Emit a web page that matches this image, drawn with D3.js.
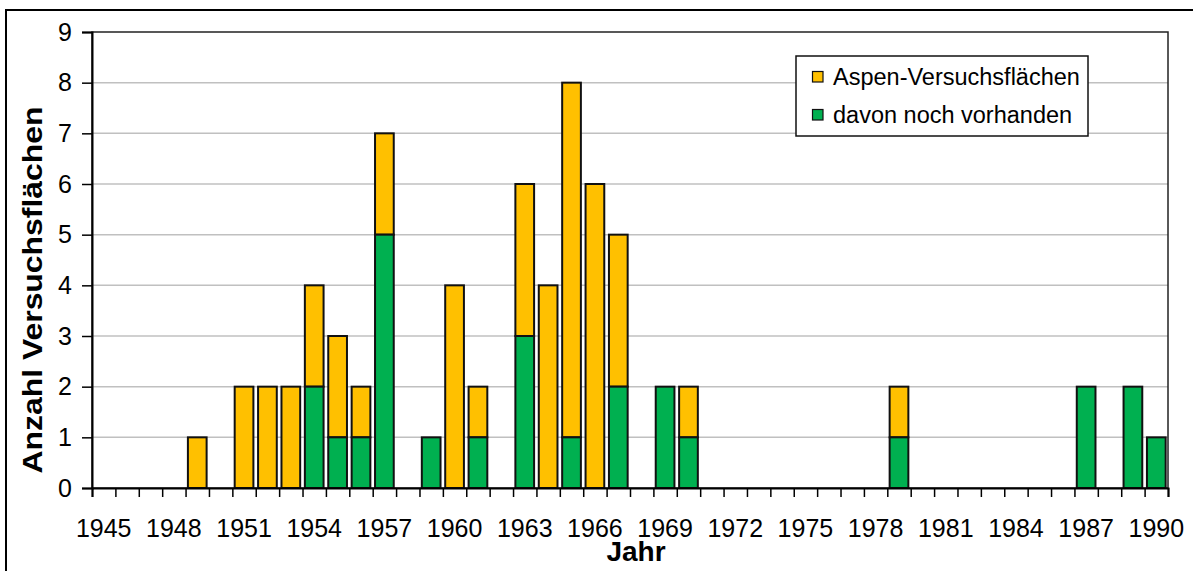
<!DOCTYPE html>
<html><head><meta charset="utf-8">
<script src="https://cdn.jsdelivr.net/npm/d3@7"></script>
<style>body{margin:0;background:#fff} svg{display:block}</style>
</head><body><svg id="c" width="1193" height="571"></svg>
<script>
// ---- data ----
const categoryYears = d3.range(1945, 1991);
const barYears = [1949,1951,1952,1953,1954,1955,1956,1957,1959,1960,1961,1963,1964,1965,1966,1967,1969,1970,1979,1987,1989,1990];
const totalPlots = [1,2,2,2,4,3,2,7,1,4,2,6,4,8,6,5,2,2,2,2,2,1];
const remainingPlots = [0,0,0,0,2,1,1,5,1,0,1,3,0,1,0,2,2,1,1,2,2,1];
const xTickLabels = [1945,1948,1951,1954,1957,1960,1963,1966,1969,1972,1975,1978,1981,1984,1987,1990];
const yTickValues = [0,1,2,3,4,5,6,7,8,9];
const seriesNames = ["Aspen-Versuchsflächen","davon noch vorhanden"];
const seriesColors = ["#FFC000","#00B050"];
const xTitle = "Jahr";
const yTitle = "Anzahl Versuchsflächen";

// ---- layout ----
const FONT = "'Liberation Sans', Arial, sans-serif";
const L = 92, R = 1168, T = 32, B = 488;
const svg = d3.select("#c");

// outer border
svg.append("rect").attr("x",6).attr("y",10).attr("width",1300).attr("height",700)
  .attr("fill","none").attr("stroke","#000").attr("stroke-width",2);

const x = d3.scaleBand().domain(categoryYears).range([L,R]).paddingInner(0.2).paddingOuter(0.1);
const xb = d3.scaleLinear().domain([0,categoryYears.length]).range([L,R]);
const y = d3.scaleLinear().domain([0,9]).range([B,T]);

// gridlines
svg.append("g").selectAll("line").data(yTickValues.filter(v=>v>0&&v<9)).join("line")
  .attr("x1",L).attr("x2",R).attr("y1",d=>y(d)).attr("y2",d=>y(d))
  .attr("stroke","#C0C0C0").attr("stroke-width",1.5);

// plot frame
svg.append("rect").attr("x",L).attr("y",T).attr("width",R-L).attr("height",B-T)
  .attr("fill","none").attr("stroke","#222").attr("stroke-width",1.5);

// bars
const rows = barYears.map((yr,i)=>({yr, total:totalPlots[i], rem:remainingPlots[i]}));
const gb = svg.append("g").attr("stroke","#111").attr("stroke-width",2);
gb.selectAll("rect.y").data(rows.filter(d=>d.total>d.rem)).join("rect")
  .attr("x",d=>x(d.yr)).attr("width",x.bandwidth())
  .attr("y",d=>y(d.total)).attr("height",d=>y(d.rem)-y(d.total))
  .attr("fill",seriesColors[0]);
gb.selectAll("rect.g").data(rows.filter(d=>d.rem>0)).join("rect")
  .attr("x",d=>x(d.yr)).attr("width",x.bandwidth())
  .attr("y",d=>y(d.rem)).attr("height",d=>y(0)-y(d.rem))
  .attr("fill",seriesColors[1]);

// y axis
const ya = svg.append("g").attr("transform",`translate(${L},0)`)
  .call(d3.axisLeft(y).tickValues(yTickValues).tickSize(10).tickPadding(10));
ya.select(".domain").attr("stroke","#000").attr("stroke-width",2);
ya.selectAll(".tick line").attr("stroke","#000").attr("stroke-width",1.5);
ya.selectAll("text").attr("font-family",FONT).attr("font-size",25).attr("fill","#000");

// x axis tick marks at category boundaries
const xt = svg.append("g").attr("transform",`translate(0,${B})`)
  .call(d3.axisBottom(xb).tickValues(d3.range(0,categoryYears.length+1)).tickSize(9).tickFormat(""));
xt.select(".domain").attr("stroke","#000").attr("stroke-width",2);
xt.selectAll(".tick line").attr("stroke","#000").attr("stroke-width",1.5);

// x labels
const xl = svg.append("g").attr("transform",`translate(0,${B})`)
  .call(d3.axisBottom(x).tickValues(xTickLabels).tickSize(0).tickPadding(31));
xl.select(".domain").remove();
xl.selectAll("text").attr("font-family",FONT).attr("font-size",25).attr("fill","#000");

// axis titles
svg.append("text").attr("x",636).attr("y",561).attr("text-anchor","middle")
  .attr("font-family",FONT).attr("font-weight","bold").attr("font-size",28).text(xTitle);
svg.append("text").attr("transform","translate(42,290) rotate(-90)").attr("text-anchor","middle")
  .attr("font-family",FONT).attr("font-weight","bold").attr("font-size",28)
  .attr("textLength",367).attr("lengthAdjust","spacingAndGlyphs").text(yTitle);

// legend
const lg = svg.append("g");
lg.append("rect").attr("x",796).attr("y",56).attr("width",292).attr("height",80)
  .attr("fill","#fff").attr("stroke","#111").attr("stroke-width",1.5);
seriesNames.forEach((name,i)=>{
  const cy = 77 + i*38;
  lg.append("rect").attr("x",812.5).attr("y",cy-5.5).attr("width",10.5).attr("height",10.5)
    .attr("fill",seriesColors[i]).attr("stroke","#111").attr("stroke-width",1.2);
  lg.append("text").attr("x",833).attr("y",cy+8).attr("font-family",FONT).attr("font-size",23.5)
    .attr("fill","#000").text(name);
});
</script></body></html>
